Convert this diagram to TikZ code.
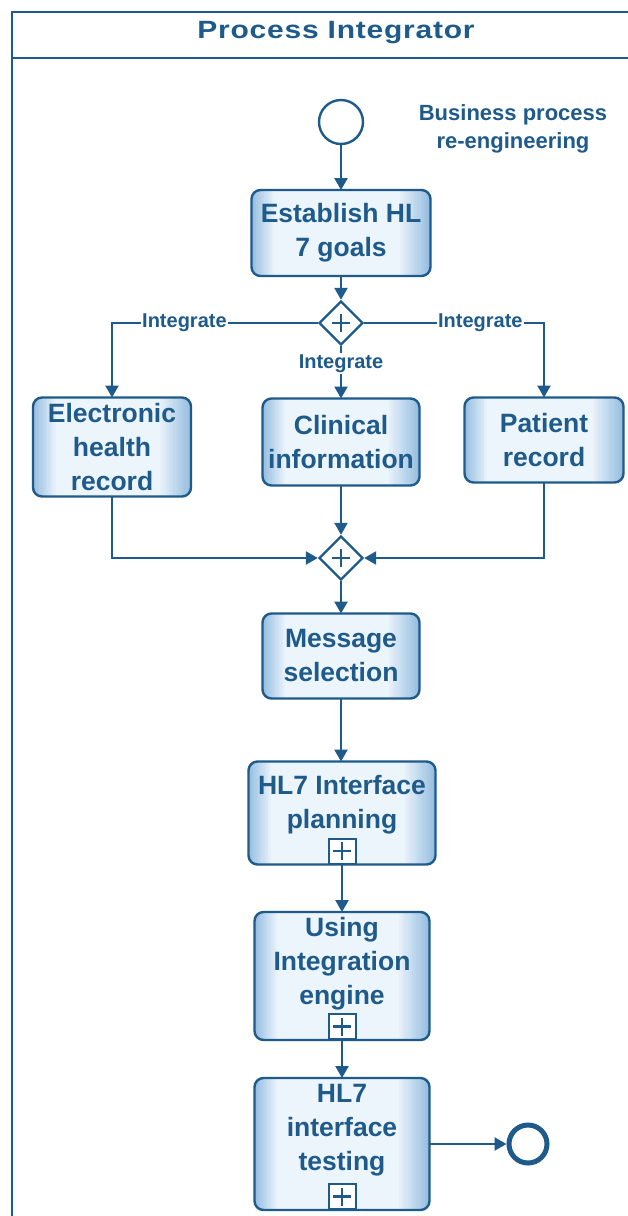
\documentclass[tikz,border=0pt]{standalone}
\usepackage{fontspec}
\setmainfont{Liberation Sans}
\newfontfamily\titlefont[LetterSpace=3,FakeStretch=1.2]{Liberation Sans}
\usetikzlibrary{arrows.meta,shapes.geometric,calc}
\definecolor{bpblue}{RGB}{30,90,138}
\definecolor{bpedge}{RGB}{150,190,224}
\definecolor{bplight}{RGB}{236,244,252}
\tikzset{
  every picture/.style={x=1pt,y=-1pt},
  flow/.style={draw=bpblue,line width=2.4pt,-{Triangle[length=12pt,width=13pt]}},
  taskbox/.style={draw=none,inner sep=0pt,outer sep=0pt},
  tasktext/.style={text=bpblue,font=\bfseries\fontsize{26.5}{34}\selectfont,align=center,inner sep=0pt},
  gate/.style={diamond,draw=bpblue,line width=2.4pt,fill=white,minimum width=44pt,minimum height=44pt,inner sep=0pt},
  lbl/.style={text=bpblue,font=\bfseries\fontsize{20}{22}\selectfont,fill=white,inner sep=1.5pt},
  sub/.style={draw=bpblue,line width=2pt,fill=white,minimum width=27pt,minimum height=25pt,inner sep=0pt,anchor=south},
  evt/.style={circle,draw=bpblue,fill=white,inner sep=0pt},
}
\newcommand{\plusmark}[2]{\draw[bpblue,line width=2.4pt] ($(#1)+(-#2,0)$) -- ($(#1)+(#2,0)$) ($(#1)+(0,-#2)$) -- ($(#1)+(0,#2)$);}
\newcommand{\shadebox}[1]{%
  \begin{scope}
    \clip[rounded corners=9pt] (#1.south west) rectangle (#1.north east);
    \fill[bplight] (#1.south west) rectangle (#1.north east);
    \foreach \k in {0,...,13} {
      \pgfmathsetmacro{\pc}{100-\k*100/14}
      \fill[bpedge!\pc!bplight] ($(#1.south west)+(\k*1.6,0)$) rectangle ($(#1.north west)+(\k*1.6+1.7,0)$);
      \fill[bpedge!\pc!bplight] ($(#1.south east)+(-\k*2.2,0)$) rectangle ($(#1.north east)+(-\k*2.2-2.3,0)$);
    }
  \end{scope}
  \draw[bpblue,line width=2.4pt,rounded corners=9pt] (#1.south west) rectangle (#1.north east);
}
\begin{document}
\begin{tikzpicture}
\useasboundingbox (0,0) rectangle (628,1216);
\fill[white] (0,0) rectangle (628,1216);
% pool
\draw[bpblue,line width=2.4pt] (12,1240) -- (12,12) -- (660,12);
\draw[bpblue,line width=2.4pt] (12,58) -- (660,58);
\node[text=bpblue,font=\titlefont\bfseries\fontsize{25}{30}\selectfont] (title) at (336,33) {Process Integrator};
% start
\node[evt,line width=2.4pt,minimum size=44pt] (start) at (341,122) {};
\node[text=bpblue,font=\bfseries\fontsize{22}{28}\selectfont,align=center] (note) at (513,129) {Business process\\re-engineering};
% tasks
\node[taskbox,minimum width=179pt,minimum height=86pt] (est) at (341,233) {};
\shadebox{est}
\node[tasktext] at (est.center) {Establish HL\\7 goals};
\node[gate] (g1) at (341,323) {};
\plusmark{g1}{9}
\node[taskbox,minimum width=158pt,minimum height=99pt] (ehr) at (112,447) {};
\shadebox{ehr}
\node[tasktext] at (ehr.center) {Electronic\\health\\record};
\node[taskbox,minimum width=157pt,minimum height=87pt] (cli) at (341,442) {};
\shadebox{cli}
\node[tasktext] at (cli.center) {Clinical\\information};
\node[taskbox,minimum width=159pt,minimum height=85pt] (pat) at (544,440) {};
\shadebox{pat}
\node[tasktext] at (pat.center) {Patient\\record};
\node[gate] (g2) at (341,558) {};
\plusmark{g2}{9}
\node[taskbox,minimum width=157pt,minimum height=85pt] (msg) at (341,656) {};
\shadebox{msg}
\node[tasktext] at (msg.center) {Message\\selection};
\node[taskbox,minimum width=187pt,minimum height=103pt] (plan) at (342,813) {};
\shadebox{plan}
\node[tasktext,yshift=8pt] at (plan.center) {HL7 Interface\\planning};
\node[sub] (planm) at (plan.south) {};
\plusmark{planm}{9}
\node[taskbox,minimum width=175pt,minimum height=128pt] (eng) at (342,976) {};
\shadebox{eng}
\node[tasktext,yshift=12pt] at (eng.center) {Using\\Integration\\engine};
\node[sub] (engm) at (eng.south) {};
\plusmark{engm}{9}
\node[taskbox,minimum width=175pt,minimum height=132pt] (tst) at (342,1144) {};
\shadebox{tst}
\node[tasktext,yshift=14pt] at (tst.center) {HL7\\interface\\testing};
\node[sub] (tstm) at (tst.south) {};
\plusmark{tstm}{9}
\node[evt,line width=5pt,minimum size=38pt] (end) at (528,1144) {};
% connectors
\draw[flow] (start) -- (est);
\draw[flow] (est) -- (g1);
\draw[flow] (g1.west) -| node[lbl,pos=0.324] {Integrate} (ehr.north);
\draw[flow] (g1.south) -- node[lbl,pos=0.33] {Integrate} (cli.north);
\draw[flow] (g1.east) -| node[lbl,pos=0.323] {Integrate} (pat.north);
\draw[flow] (cli) -- (g2);
\draw[flow] (ehr.south) |- (g2.west);
\draw[flow] (pat.south) |- (g2.east);
\draw[flow] (g2) -- (msg);
\draw[flow] (msg.south) -- (msg.south |- plan.north);
\draw[flow] (planm.south) -- (eng.north);
\draw[flow] (engm.south) -- (tst.north);
\draw[flow] (tst.east) -- (end.west);
\end{tikzpicture}
\end{document}
